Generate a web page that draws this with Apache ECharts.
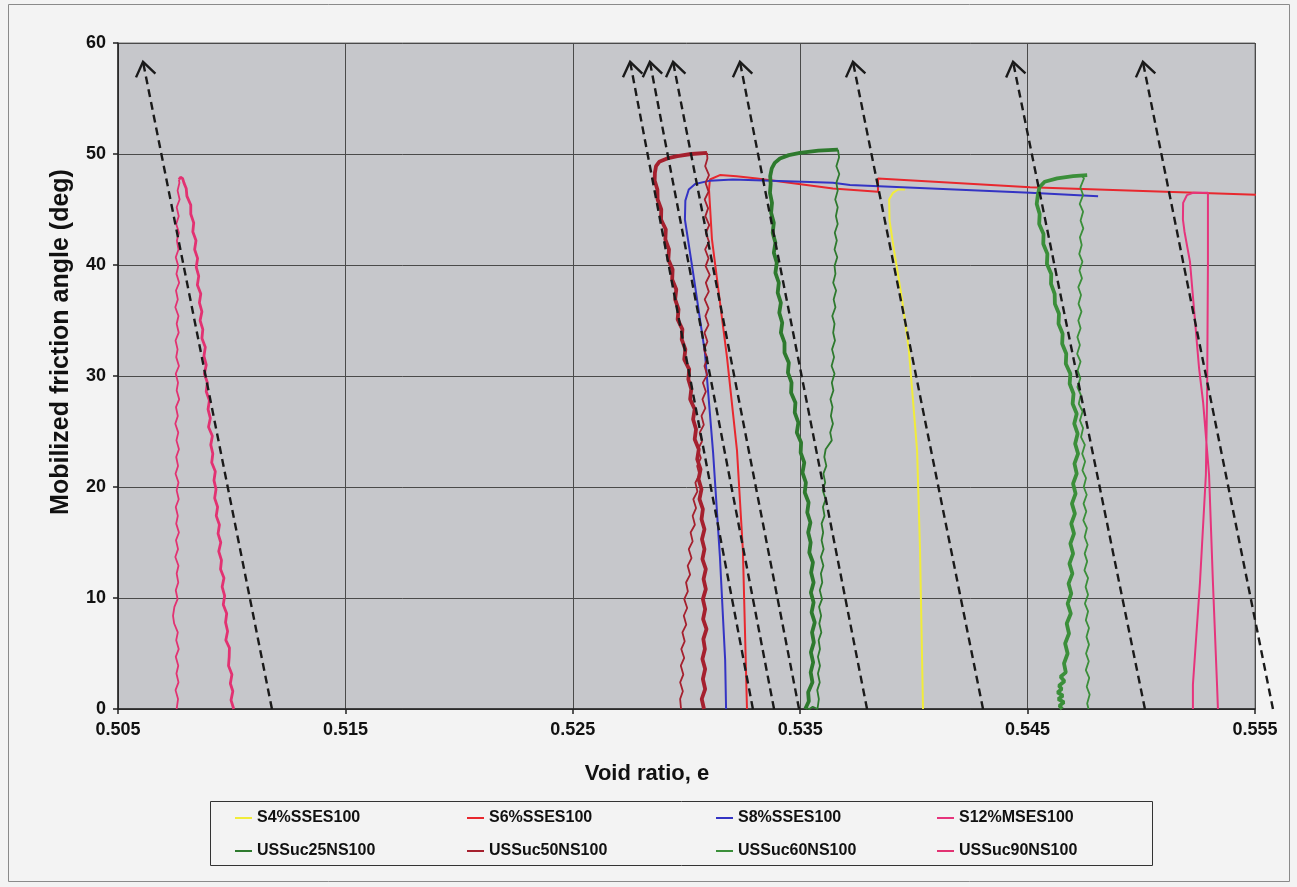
<!DOCTYPE html>
<html>
<head>
<meta charset="utf-8">
<title>Mobilized friction angle vs void ratio</title>
<script src="https://cdn.jsdelivr.net/npm/echarts@6/dist/echarts.min.js"></script>
<style>
  html, body { margin: 0; padding: 0; background: #f3f3f3; }
  #chart { width: 1297px; height: 887px; }
</style>
</head>
<body>
<div id="chart"></div>
<script>
// Axis ranges
const E_MIN = 0.505, E_MAX = 0.555, E_STEP = 0.01;
const PHI_MIN = 0, PHI_MAX = 60, PHI_STEP = 10;

// Series names (legend order)
const names = ['S4%SSES100', 'S6%SSES100', 'S8%SSES100', 'S12%MSES100',
               'USSuc25NS100', 'USSuc50NS100', 'USSuc60NS100', 'USSuc90NS100'];

// [void ratio e, mobilized friction angle (deg)]
const s4 = [[0.54040,0],[0.54027,14.3],[0.54014,23.3],[0.53996,27.8],[0.53978,32.3],[0.53948,36.9],
  [0.53912,41.4],[0.53893,44.0],[0.53891,45.9],[0.53908,46.5],[0.53930,46.8],[0.53961,46.8]];

const s6 = [[0.53266,0],[0.53248,14.3],[0.53222,23.3],[0.53178,31.7],[0.53112,42.3],[0.53099,46.8],
  [0.53103,47.7],[0.53147,48.1],[0.53220,48.0],[0.53310,47.8],[0.53644,46.9],[0.53842,46.6],
  [0.53842,47.8],[0.54511,47.0],[0.55535,46.3]];

const s8 = [[0.53174,0],[0.53170,4.4],[0.53147,13.7],[0.53117,23.1],[0.53081,32.1],[0.53029,39.3],
  [0.52993,44.1],[0.52995,45.8],[0.53010,46.8],[0.53038,47.3],[0.53103,47.6],[0.53204,47.7],
  [0.53644,47.4],[0.53719,47.2],[0.54511,46.5],[0.54810,46.2]];

const s12 = [[0.55337,0],[0.55333,2.2],[0.55315,11.4],[0.55298,21.1],[0.55272,27.6],[0.55254,30.7],
  [0.55214,40.3],[0.55190,43.0],[0.55183,44.1],[0.55184,45.6],[0.55201,46.3],[0.55227,46.5],
  [0.55293,46.5],[0.55293,40.0],[0.55290,30.0],[0.55289,27.6],[0.55284,21.1],[0.55258,11.4],
  [0.55227,2.2],[0.55227,0]];

// USSuc25NS100: loading branch, then unloading branch
const uss25Load = [[0.53522,0],[0.53538,0.7],[0.53535,1.5],[0.53554,2.4],[0.53546,3.3],[0.53557,4.2],
  [0.53547,5.1],[0.53560,6.0],[0.53552,6.9],[0.53564,7.8],[0.53550,8.7],[0.53559,9.6],[0.53547,10.5],
  [0.53559,11.4],[0.53548,12.3],[0.53556,13.2],[0.53540,14.1],[0.53546,15.0],[0.53535,15.9],
  [0.53545,16.8],[0.53531,17.7],[0.53537,18.6],[0.53520,19.5],[0.53525,20.4],[0.53510,21.3],
  [0.53518,22.2],[0.53502,23.1],[0.53504,24.0],[0.53485,24.9],[0.53492,25.8],[0.53476,26.7],
  [0.53479,27.6],[0.53460,28.5],[0.53462,29.4],[0.53446,30.3],[0.53450,31.2],[0.53431,32.1],
  [0.53431,33.0],[0.53415,33.9],[0.53421,34.8],[0.53408,35.7],[0.53415,36.6],[0.53401,37.5],
  [0.53406,38.4],[0.53391,39.3],[0.53397,40.2],[0.53384,41.1],[0.53391,42.0],[0.53379,42.9],
  [0.53384,43.8],[0.53372,44.7],[0.53376,45.6],[0.53367,46.5],[0.53370,47.3],[0.53368,48.0],
  [0.53375,48.7],[0.53388,49.2],[0.53411,49.6],[0.53450,49.9],[0.53499,50.1],[0.53580,50.3],
  [0.53666,50.4]];
const uss25Unload = [[0.53666,50.4],[0.53671,49.7],[0.53659,48.9],[0.53672,48.2],[0.53659,47.4],
  [0.53665,46.7],[0.53654,45.9],[0.53665,45.2],[0.53657,44.4],[0.53665,43.7],[0.53652,42.9],
  [0.53661,42.2],[0.53651,41.4],[0.53663,40.7],[0.53651,39.9],[0.53655,39.2],[0.53645,38.4],
  [0.53658,37.7],[0.53647,36.9],[0.53655,36.2],[0.53641,35.4],[0.53651,34.7],[0.53645,33.9],
  [0.53653,33.2],[0.53640,32.4],[0.53649,31.7],[0.53638,30.9],[0.53651,30.2],[0.53639,29.4],
  [0.53646,28.7],[0.53633,27.9],[0.53642,27.2],[0.53635,26.4],[0.53644,25.7],[0.53632,24.9],
  [0.53639,24.2],[0.53612,23.4],[0.53606,22.7],[0.53615,21.9],[0.53602,21.2],[0.53610,20.4],
  [0.53599,19.7],[0.53612,18.9],[0.53600,18.2],[0.53607,17.4],[0.53594,16.7],[0.53601,15.9],
  [0.53594,15.2],[0.53603,14.4],[0.53591,13.7],[0.53602,12.9],[0.53591,12.2],[0.53597,11.4],
  [0.53586,10.7],[0.53596,9.9],[0.53583,9.2],[0.53592,8.4],[0.53584,7.7],[0.53593,6.9],
  [0.53581,6.2],[0.53587,5.4],[0.53578,4.7],[0.53587,3.9],[0.53578,3.2],[0.53586,2.4],
  [0.53575,1.7],[0.53582,0.9],[0.53576,0],[0.53555,0.2],[0.53540,0],[0.53526,0.1]];

// USSuc50NS100
const uss50Load = [[0.53077,0],[0.53067,0.9],[0.53082,1.8],[0.53072,2.7],[0.53082,3.6],[0.53070,4.5],
  [0.53081,5.4],[0.53074,6.3],[0.53088,7.2],[0.53073,8.1],[0.53082,9.0],[0.53072,9.9],[0.53085,10.8],
  [0.53075,11.7],[0.53085,12.6],[0.53070,13.5],[0.53079,14.4],[0.53068,15.3],[0.53079,16.2],
  [0.53066,17.1],[0.53072,18.0],[0.53057,18.9],[0.53066,19.8],[0.53053,20.7],[0.53062,21.6],
  [0.53047,22.5],[0.53054,23.4],[0.53036,24.3],[0.53042,25.2],[0.53029,26.1],[0.53036,27.0],
  [0.53016,27.9],[0.53021,28.8],[0.53008,29.7],[0.53012,30.6],[0.52990,31.5],[0.52995,32.4],
  [0.52979,33.3],[0.52982,34.2],[0.52961,35.1],[0.52965,36.0],[0.52950,36.9],[0.52955,37.8],
  [0.52937,38.7],[0.52939,39.6],[0.52920,40.5],[0.52923,41.4],[0.52907,42.3],[0.52909,43.2],
  [0.52888,44.1],[0.52889,45.0],[0.52873,45.9],[0.52872,46.8],[0.52860,47.6],[0.52861,48.3],
  [0.52866,48.9],[0.52880,49.3],[0.52915,49.6],[0.52960,49.8],[0.53020,50.0],[0.53090,50.1]];
const uss50Unload = [[0.53090,50.1],[0.53092,49.6],[0.53082,48.9],[0.53099,48.1],[0.53084,47.4],
  [0.53097,46.6],[0.53080,45.9],[0.53095,45.1],[0.53083,44.4],[0.53100,43.6],[0.53085,42.9],
  [0.53099,42.1],[0.53082,41.4],[0.53097,40.6],[0.53084,39.9],[0.53102,39.1],[0.53085,38.4],
  [0.53098,37.6],[0.53080,36.9],[0.53097,36.1],[0.53083,35.4],[0.53097,34.6],[0.53079,33.9],
  [0.53092,33.1],[0.53077,32.4],[0.53092,31.6],[0.53079,30.9],[0.53091,30.1],[0.53072,29.4],
  [0.53085,28.6],[0.53070,27.9],[0.53083,27.1],[0.53066,26.4],[0.53076,25.6],[0.53058,24.9],
  [0.53068,24.1],[0.53050,23.4],[0.53063,22.6],[0.53047,21.9],[0.53057,21.1],[0.53039,20.4],
  [0.53048,19.6],[0.53030,18.9],[0.53042,18.1],[0.53027,17.4],[0.53037,16.6],[0.53018,15.9],
  [0.53027,15.1],[0.53010,14.4],[0.53022,13.6],[0.53005,12.9],[0.53016,12.1],[0.52998,11.4],
  [0.53006,10.6],[0.52990,9.9],[0.53003,9.1],[0.52988,8.4],[0.52999,7.6],[0.52982,6.9],
  [0.52992,6.1],[0.52977,5.4],[0.52990,4.6],[0.52975,3.9],[0.52986,3.1],[0.52972,2.4],
  [0.52984,1.6],[0.52972,0.9],[0.52976,0]];

// USSuc60NS100
const uss60Load = [[0.54652,0],[0.54640,0.3],[0.54660,0.6],[0.54635,0.9],[0.54655,1.2],[0.54632,1.5],
  [0.54650,1.8],[0.54638,2.1],[0.54662,2.5],[0.54645,2.9],[0.54668,3.3],[0.54660,4.1],[0.54676,5.0],
  [0.54665,5.9],[0.54682,6.8],[0.54672,7.7],[0.54690,8.6],[0.54676,9.5],[0.54692,10.4],
  [0.54680,11.3],[0.54697,12.2],[0.54684,13.1],[0.54700,14.0],[0.54688,14.9],[0.54704,15.8],
  [0.54692,16.7],[0.54708,17.6],[0.54695,18.5],[0.54711,19.4],[0.54700,20.3],[0.54716,21.2],
  [0.54706,22.1],[0.54722,23.0],[0.54709,23.9],[0.54720,24.8],[0.54705,25.7],[0.54716,26.6],
  [0.54698,27.5],[0.54702,28.4],[0.54685,29.3],[0.54688,30.2],[0.54668,31.1],[0.54670,32.0],
  [0.54652,32.9],[0.54654,33.8],[0.54636,34.7],[0.54638,35.6],[0.54620,36.5],[0.54619,37.4],
  [0.54603,38.3],[0.54604,39.2],[0.54585,40.1],[0.54587,41.0],[0.54569,41.9],[0.54570,42.8],
  [0.54551,43.7],[0.54553,44.6],[0.54540,45.5],[0.54545,46.3],[0.54552,47.0],[0.54575,47.5],
  [0.54630,47.8],[0.54700,48.0],[0.54762,48.1]];
const uss60Unload = [[0.54740,48.0],[0.54748,47.8],[0.54732,47.0],[0.54744,46.3],[0.54729,45.5],
  [0.54744,44.8],[0.54733,44.0],[0.54745,43.3],[0.54730,42.5],[0.54738,41.8],[0.54727,41.0],
  [0.54741,40.3],[0.54728,39.5],[0.54739,38.8],[0.54723,38.0],[0.54735,37.3],[0.54724,36.5],
  [0.54737,35.8],[0.54723,35.0],[0.54733,34.3],[0.54719,33.5],[0.54730,32.8],[0.54718,32.0],
  [0.54733,31.3],[0.54720,30.5],[0.54732,29.8],[0.54719,29.0],[0.54734,28.3],[0.54725,27.5],
  [0.54742,26.8],[0.54730,26.0],[0.54744,25.3],[0.54735,24.5],[0.54752,23.8],[0.54740,23.0],
  [0.54753,22.3],[0.54741,21.5],[0.54757,20.8],[0.54747,20.0],[0.54760,19.3],[0.54746,18.5],
  [0.54758,17.8],[0.54745,17.0],[0.54761,16.3],[0.54751,15.5],[0.54764,14.8],[0.54751,14.0],
  [0.54762,13.3],[0.54750,12.5],[0.54766,11.8],[0.54755,11.0],[0.54766,10.3],[0.54752,9.5],
  [0.54766,8.8],[0.54756,8.0],[0.54770,7.3],[0.54759,6.5],[0.54770,5.8],[0.54757,5.0],
  [0.54769,4.3],[0.54756,3.5],[0.54771,2.8],[0.54760,2.0],[0.54773,1.3],[0.54762,0.5],[0.54768,0]];

// USSuc90NS100
const uss90Load = [[0.51009,0],[0.50997,0.8],[0.51005,1.6],[0.50994,2.3],[0.51001,3.1],[0.50986,3.9],
  [0.50989,4.7],[0.50990,5.5],[0.50974,6.2],[0.50982,7.0],[0.50973,7.8],[0.50978,8.6],[0.50963,9.4],
  [0.50969,10.2],[0.50958,11.0],[0.50966,11.8],[0.50951,12.6],[0.50955,13.4],[0.50943,14.2],
  [0.50952,15.0],[0.50940,15.8],[0.50946,16.6],[0.50932,17.4],[0.50938,18.2],[0.50925,19.0],
  [0.50931,19.8],[0.50922,20.6],[0.50928,21.4],[0.50912,22.2],[0.50917,23.0],[0.50908,23.8],
  [0.50915,24.6],[0.50898,25.4],[0.50906,26.2],[0.50896,27.0],[0.50902,27.8],[0.50888,28.6],
  [0.50893,29.4],[0.50880,30.2],[0.50888,31.0],[0.50878,31.8],[0.50884,32.6],[0.50869,33.4],
  [0.50873,34.2],[0.50861,35.0],[0.50869,35.8],[0.50858,36.6],[0.50864,37.4],[0.50849,38.2],
  [0.50855,39.0],[0.50844,39.8],[0.50850,40.6],[0.50837,41.4],[0.50843,42.2],[0.50829,43.0],
  [0.50833,43.8],[0.50820,44.6],[0.50820,45.4],[0.50803,46.2],[0.50800,46.9],[0.50790,47.4],
  [0.50784,47.8],[0.50775,47.9],[0.50768,47.7]];
const uss90Unload = [[0.50768,47.7],[0.50770,47.4],[0.50762,46.7],[0.50771,45.9],[0.50758,45.2],
  [0.50767,44.4],[0.50756,43.7],[0.50768,42.9],[0.50759,42.2],[0.50766,41.4],[0.50754,40.7],
  [0.50765,39.9],[0.50757,39.2],[0.50769,38.4],[0.50755,37.7],[0.50763,36.9],[0.50752,36.2],
  [0.50766,35.4],[0.50758,34.7],[0.50767,33.9],[0.50753,33.2],[0.50762,32.4],[0.50756,31.7],
  [0.50768,30.9],[0.50754,30.2],[0.50764,29.4],[0.50758,28.7],[0.50769,27.9],[0.50755,27.2],
  [0.50763,26.4],[0.50752,25.7],[0.50765,24.9],[0.50757,24.2],[0.50768,23.4],[0.50756,22.7],
  [0.50764,21.9],[0.50753,21.2],[0.50766,20.4],[0.50758,19.7],[0.50767,18.9],[0.50754,18.2],
  [0.50763,17.4],[0.50756,16.7],[0.50768,15.9],[0.50755,15.2],[0.50764,14.4],[0.50752,13.7],
  [0.50766,12.9],[0.50758,12.2],[0.50765,11.4],[0.50754,10.7],[0.50762,9.9],[0.50748,9.2],
  [0.50742,8.4],[0.50747,7.7],[0.50763,6.9],[0.50756,6.2],[0.50767,5.4],[0.50754,4.7],
  [0.50765,3.9],[0.50757,3.2],[0.50766,2.4],[0.50753,1.7],[0.50764,0.9],[0.50758,0]];

// Dashed guide arrows: void ratio at zero angle and at the arrow tip
const arrowBaseE = [0.51177, 0.53292, 0.53385, 0.53495, 0.53794, 0.54304, 0.55016, 0.55579];
const arrowTipE  = [0.50610, 0.52752, 0.52839, 0.52941, 0.53235, 0.53732, 0.54436, 0.55007];
const arrowTipPhi = 58.3;

const colors = {
  'S4%SSES100': '#f1ec3a',
  'S6%SSES100': '#e8282e',
  'S8%SSES100': '#3434c4',
  'S12%MSES100': '#e6347c',
  'USSuc25NS100': '#2e7a2e',
  'USSuc50NS100': '#a5202e',
  'USSuc60NS100': '#3b8f3a',
  'USSuc90NS100': '#e23272'
};

const FONT = "'Liberation Sans', Arial, Helvetica, sans-serif";

function lineSeries(name, data, width, extra) {
  return Object.assign({
    type: 'line', name: name, data: data,
    symbol: 'none', showSymbol: false, smooth: false,
    lineStyle: { color: colors[name], width: width },
    itemStyle: { color: colors[name] },
    emphasis: { disabled: true },
    z: 3
  }, extra || {});
}

const series = [
  lineSeries('S4%SSES100', s4, 2),
  lineSeries('S6%SSES100', s6, 2, { clip: false }),
  lineSeries('S8%SSES100', s8, 2),
  lineSeries('S12%MSES100', s12, 2),
  lineSeries('USSuc25NS100', uss25Load, 3.8),
  lineSeries('USSuc25NS100', uss25Unload, 1.8),
  lineSeries('USSuc50NS100', uss50Load, 3.8),
  lineSeries('USSuc50NS100', uss50Unload, 1.8),
  lineSeries('USSuc60NS100', uss60Load, 3.8),
  lineSeries('USSuc60NS100', uss60Unload, 1.8),
  lineSeries('USSuc90NS100', uss90Load, 2.8),
  lineSeries('USSuc90NS100', uss90Unload, 1.8),
  {
    type: 'custom',
    name: 'guide',
    clip: false,
    z: 5,
    silent: true,
    encode: { x: [0, 2], y: [1, 3] },
    data: arrowBaseE.map((e, i) => [e, 0, arrowTipE[i], arrowTipPhi]),
    renderItem: function (params, api) {
      const b = api.coord([api.value(0), api.value(1)]);
      const t = api.coord([api.value(2), api.value(3)]);
      const dx = b[0] - t[0], dy = b[1] - t[1];
      const len = Math.hypot(dx, dy);
      const ux = dx / len, uy = dy / len;
      const L = 17, a = 0.62;
      const arm = (s) => [t[0] + L * (ux * Math.cos(s) - uy * Math.sin(s)),
                          t[1] + L * (ux * Math.sin(s) + uy * Math.cos(s))];
      return {
        type: 'group',
        children: [
          { type: 'line', shape: { x1: b[0], y1: b[1], x2: t[0], y2: t[1] },
            style: { stroke: '#1a1a1a', lineWidth: 2.4, lineDash: [8, 5] } },
          { type: 'polyline', shape: { points: [arm(a), t, arm(-a)] },
            style: { stroke: '#1a1a1a', lineWidth: 2.4, fill: null } }
        ]
      };
    }
  }
];

// Legend laid out as four columns of two rows
const legendCols = [[names[0], names[4]], [names[1], names[5]], [names[2], names[6]], [names[3], names[7]]];
const legendLeft = [235, 467, 716, 937];
const legends = legendCols.map((cols, i) => ({
  data: cols,
  orient: 'vertical',
  left: legendLeft[i],
  top: 810,
  itemGap: 17,
  itemWidth: 17,
  itemHeight: 2,
  icon: 'rect',
  selectedMode: false,
  textStyle: { fontFamily: FONT, fontSize: 16, fontWeight: 'bold', color: '#111' },
  padding: 0
}));

const chart = echarts.init(document.getElementById('chart'), null, { renderer: 'canvas' });
chart.setOption({
  animation: false,
  backgroundColor: '#f3f3f3',
  grid: {
    left: 118, right: 42, top: 43, bottom: 178,
    show: true, backgroundColor: '#c6c7cb', borderColor: '#6e6e6e', borderWidth: 1
  },
  xAxis: {
    type: 'value', min: E_MIN, max: E_MAX, interval: E_STEP,
    axisLine: { show: true, onZero: false, lineStyle: { color: '#222', width: 1.5 } },
    axisTick: { show: true, inside: false, length: 5, lineStyle: { color: '#222', width: 1.5 } },
    axisLabel: { margin: 12, fontFamily: FONT, fontSize: 18, fontWeight: 'bold', color: '#111',
                 formatter: v => v.toFixed(3) },
    splitLine: { show: true, lineStyle: { color: '#4a4a4a', width: 1 } }
  },
  yAxis: {
    type: 'value', min: PHI_MIN, max: PHI_MAX, interval: PHI_STEP,
    axisLine: { show: true, onZero: false, lineStyle: { color: '#222', width: 1.5 } },
    axisTick: { show: true, inside: false, length: 5, lineStyle: { color: '#222', width: 1.5 } },
    axisLabel: { margin: 12, fontFamily: FONT, fontSize: 18, fontWeight: 'bold', color: '#111' },
    splitLine: { show: true, lineStyle: { color: '#4a4a4a', width: 1 } }
  },
  legend: legends,
  graphic: [
    { type: 'rect', z: 0, silent: true,
      shape: { x: 8.5, y: 4.5, width: 1281, height: 877 },
      style: { fill: null, stroke: '#8a8a8a', lineWidth: 1 } },
    { type: 'rect', z: 0, silent: true,
      shape: { x: 210.5, y: 801.5, width: 942, height: 64 },
      style: { fill: null, stroke: '#333', lineWidth: 1 } },
    // axis titles
    { type: 'text', silent: true, x: 647, y: 774,
      style: { text: 'Void ratio, e', fill: '#111', font: "bold 22px 'Liberation Sans', Arial, sans-serif",
               align: 'center', verticalAlign: 'middle', textAlign: 'center', textVerticalAlign: 'middle' } },
    { type: 'text', silent: true, x: 61, y: 342, rotation: Math.PI / 2,
      style: { text: 'Mobilized friction angle (deg)', fill: '#111', font: "bold 25px 'Liberation Sans', Arial, sans-serif",
               align: 'center', verticalAlign: 'middle', textAlign: 'center', textVerticalAlign: 'middle' } }
  ],
  series: series
});
</script>
</body>
</html>
